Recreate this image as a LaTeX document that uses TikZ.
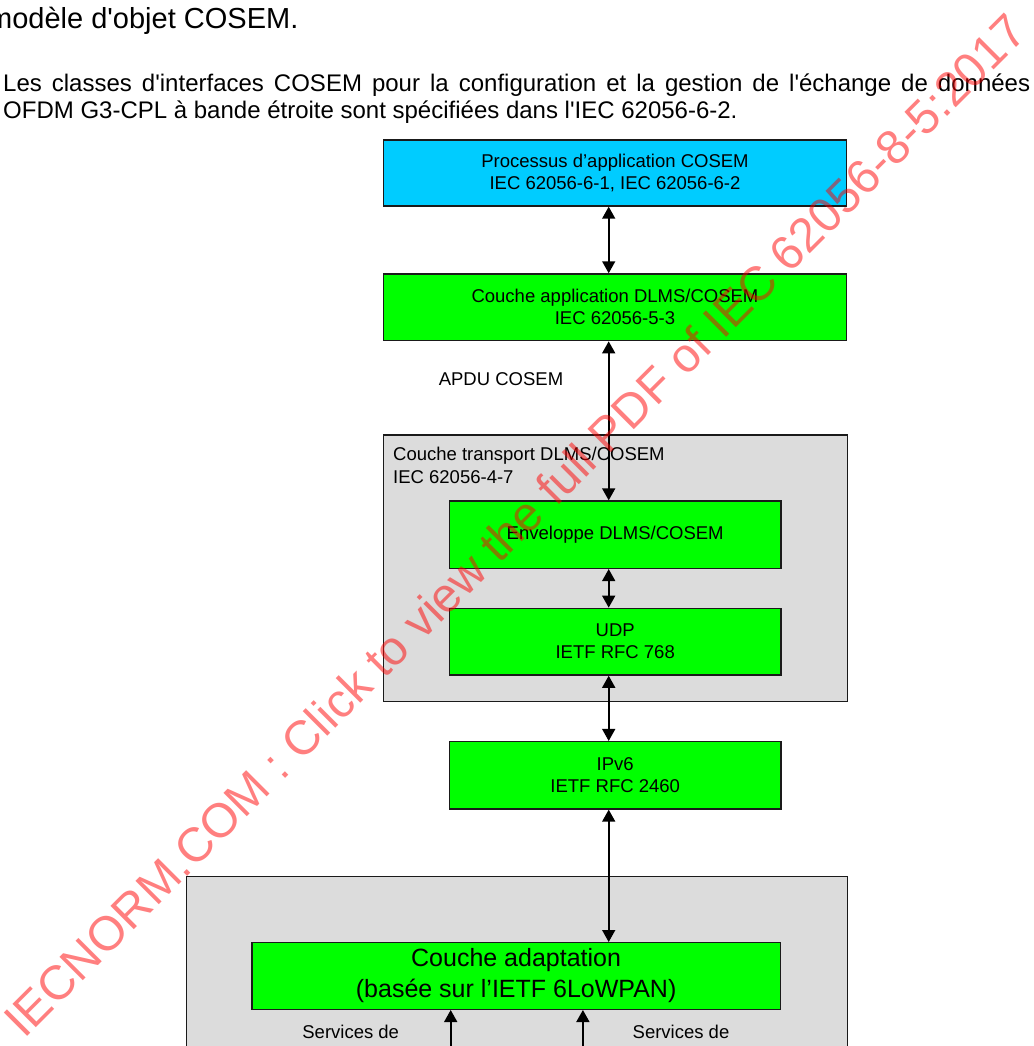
\documentclass[tikz,border=0pt]{standalone}
\usepackage{fontspec}
\newfontfamily\lsans{Liberation Sans}
\usetikzlibrary{arrows.meta}
\definecolor{cosemblue}{HTML}{00CCFF}
\definecolor{layergreen}{HTML}{00FF00}
\definecolor{layergray}{HTML}{DCDCDC}
\definecolor{edgeline}{HTML}{1A1A1A}
\newcommand{\boxfont}{\lsans\fontsize{18.5pt}{22pt}\selectfont}
\newcommand{\bigboxfont}{\lsans\fontsize{25pt}{31pt}\selectfont}
\newcommand{\parafont}{\lsans\fontsize{24pt}{27pt}\selectfont}
\newcommand{\topfont}{\lsans\fontsize{29pt}{32pt}\selectfont}
\newcommand{\wmfont}{\lsans\fontsize{48pt}{52pt}\selectfont}
\begin{document}
\begin{tikzpicture}[x=1pt,y=-1pt,
  layer/.style={draw=edgeline, line width=1.4pt, inner sep=0pt, align=center, font=\boxfont},
  biarrow/.style={line width=1.6pt, {Triangle[length=12pt,width=13pt]}-{Triangle[length=12pt,width=13pt]}},
  uparrow/.style={line width=1.6pt, -{Triangle[length=12pt,width=13pt]}},
  plain/.style={inner sep=0pt, font=\boxfont}]
\useasboundingbox (0,0) rectangle (1033,1046);
\clip (0,0) rectangle (1033,1046);

% surrounding page text
\node[anchor=base west, inner sep=0pt, font=\topfont] (t1) at (-12,29) {modèle d'objet COSEM.};
\node[anchor=base west, inner sep=0pt, font=\parafont] (p1) at (3,92) {\makebox[1027pt][s]{Les classes d'interfaces COSEM pour la configuration et la gestion de l'échange de données}};
\node[anchor=base west, inner sep=0pt, font=\parafont] (p2) at (3,119) {OFDM G3-CPL à bande étroite sont spécifiées dans l'IEC 62056-6-2.};

% containers
\node[layer, fill=layergray, minimum width=464pt, minimum height=266.7pt] (transport) at (615.3,568.3) {};
\node[plain, anchor=base west] (tl1) at (393,460.6) {Couche transport DLMS/COSEM};
\node[plain, anchor=base west] (tl2) at (393,483.5) {IEC 62056-4-7};
\node[layer, fill=layergray, minimum width=660.5pt, minimum height=260pt, anchor=north west] (mac) at (186,876) {};

% layer boxes
\node[layer, fill=cosemblue, minimum width=463.4pt, minimum height=66pt] (proc) at (615,173) {Processus d’application COSEM\\IEC 62056-6-1, IEC 62056-6-2};
\node[layer, fill=layergreen, minimum width=463.4pt, minimum height=66.7pt] (app) at (615,307.3) {Couche application DLMS/COSEM\\IEC 62056-5-3};
\node[layer, fill=layergreen, minimum width=331.7pt, minimum height=67.3pt] (env) at (615.2,534.7) {Enveloppe DLMS/COSEM};
\node[layer, fill=layergreen, minimum width=331.7pt, minimum height=66.7pt] (udp) at (615.2,641.7) {UDP\\IETF RFC 768};
\node[layer, fill=layergreen, minimum width=331.7pt, minimum height=67.3pt] (ipv6) at (615.2,775.3) {IPv6\\IETF RFC 2460};
\node[layer, fill=layergreen, minimum width=528.6pt, minimum height=66.6pt, font=\bigboxfont] (adapt) at (516.1,976) {Couche adaptation\\(basée sur l’IETF 6LoWPAN)};

% labels
\node[plain] (apdu) at (501,379) {APDU COSEM};
\node[plain] (serv1) at (350.7,1031.7) {Services de};
\node[plain] (serv2) at (681,1031.7) {Services de};

% connectors
\coordinate (ax) at (608.7,0);
\coordinate (s1) at (450.7,1070);
\coordinate (s2) at (582.9,1070);
\draw[biarrow] (proc.south -| ax) -- (app.north -| ax);
\draw[biarrow] (app.south -| ax) -- (env.north -| ax);
\draw[biarrow] (env.south -| ax) -- (udp.north -| ax);
\draw[biarrow] (udp.south -| ax) -- (ipv6.north -| ax);
\draw[biarrow] (ipv6.south -| ax) -- (adapt.north -| ax);
\draw[uparrow] (s1) -- (adapt.south -| s1);
\draw[uparrow] (s2) -- (adapt.south -| s2);

% watermark
\node[rotate=45, anchor=base, inner sep=0pt, font=\wmfont, text=red, text opacity=0.5] (wm) at (527,537) {IECNORM.COM : Click to view the full PDF of IEC 62056-8-5:2017};
\end{tikzpicture}
\end{document}
